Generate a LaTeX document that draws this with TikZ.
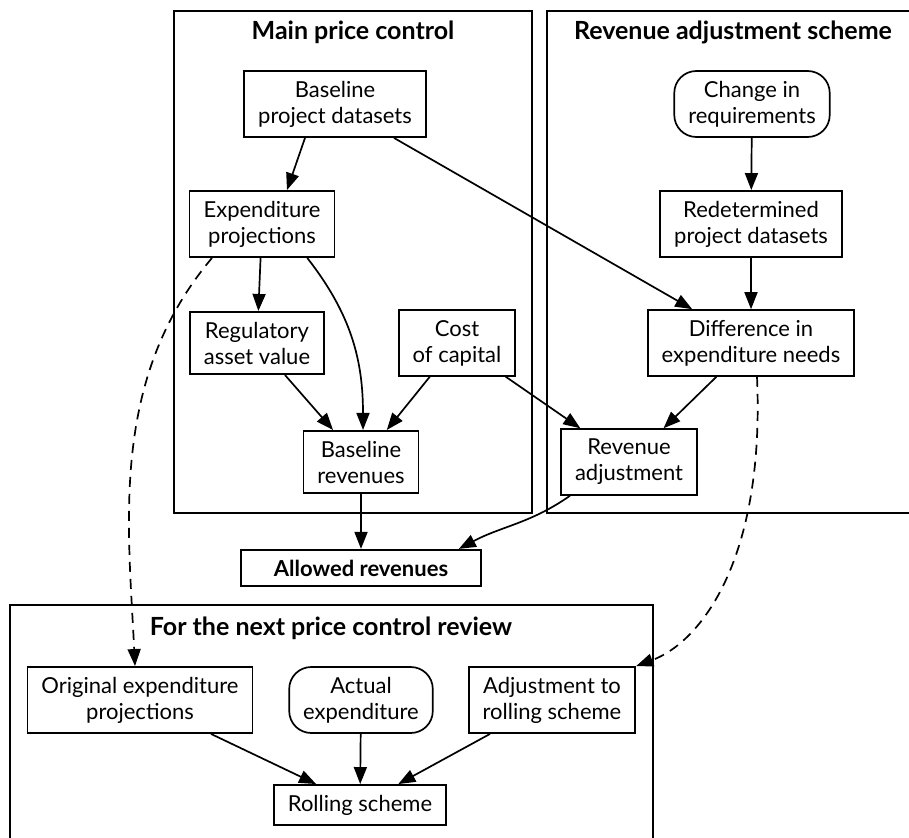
\documentclass[tikz,border=0pt]{standalone}
\usepackage{fontspec}
\setmainfont{Lato}
\usetikzlibrary{arrows.meta,positioning}
\tikzset{
  box/.style={draw, line width=1.7pt, rectangle, align=center, inner xsep=14pt, inner ysep=10pt, font=\fontsize{22}{26}\selectfont},
  softbox/.style={box, rounded corners=22pt},
  group/.style={draw, line width=1.7pt},
  grouptitle/.style={font=\bfseries\fontsize{25}{30}\selectfont},
  edge/.style={line width=1.7pt, -{Triangle[length=17pt,width=13pt]}},
  dashedge/.style={edge, dash pattern=on 10pt off 7pt},
}
\begin{document}
\begin{tikzpicture}[x=1pt,y=1pt]
\useasboundingbox (0,0) rectangle (909,-837);
\clip (0,0) rectangle (909,-837);
% clusters
\draw[group] (174,-11) rectangle (532,-513);
\draw[group] (547,-11) rectangle (919,-513);
\draw[group] (10,-605) rectangle (653,-850);
\node[grouptitle] (tmain) at (353,-32) {Main price control};
\node[grouptitle] (tadj) at (733,-32) {Revenue adjustment scheme};
\node[grouptitle] (tnext) at (331,-628) {For the next price control review};
% main price control
\node[box] (bpd) at (335,-104) {Baseline\\project datasets};
\node[box] (exp) at (262,-224) {Expenditure\\projections};
\node[box] (rav) at (257,-343) {Regulatory\\asset value};
\node[box] (coc) at (457,-343) {Cost\\of capital};
\node[box] (brev) at (361,-462) {Baseline\\revenues};
% revenue adjustment scheme
\node[softbox] (chg) at (752,-104) {Change in\\requirements};
\node[box] (rpd) at (751,-224) {Redetermined\\project datasets};
\node[box] (den) at (751,-343) {Difference in\\expenditure needs};
\node[box] (radj) at (629,-462) {Revenue\\adjustment};
% outcome
\node[box, font=\bfseries\fontsize{22}{26}\selectfont, minimum width=240pt] (allow) at (361,-568) {Allowed revenues};
% next review
\node[box] (orig) at (140,-700) {Original expenditure\\projections};
\node[softbox] (act) at (361,-700) {Actual\\expenditure};
\node[box] (adjr) at (552,-700) {Adjustment to\\rolling scheme};
\node[box] (roll) at (360,-805) {Rolling scheme};
% connectors
\draw[edge] ([xshift=-30pt]bpd.south) -- ([xshift=25pt]exp.north);
\draw[edge] (bpd) -- (den);
\draw[edge] (chg) -- (rpd);
\draw[edge] (rpd) -- (den);
\draw[edge] (exp) -- (rav);
\draw[edge] ([xshift=-28pt]exp.south east) to[out=-52,in=90] ([xshift=2pt]brev.north);
\draw[edge] (rav) -- (brev);
\draw[edge] (coc) -- (brev);
\draw[edge] (coc) -- (radj);
\draw[edge] (den) -- (radj);
\draw[edge] (brev) -- (allow);
\draw[edge] ([xshift=-59pt]radj.south) to[out=-145,in=28] ([xshift=-23pt]allow.north east);
\draw[edge] (orig) -- (roll);
\draw[edge] (act) -- (roll);
\draw[edge] (adjr) -- (roll);
\draw[dashedge] ([xshift=-50pt]exp.south) .. controls +(-102,-121) and +(-7,144) .. ([xshift=-5pt]orig.north);
\draw[dashedge] ([xshift=6pt]den.south) .. controls +(8,-182) and +(65,24) .. (adjr.north east);
\end{tikzpicture}
\end{document}
